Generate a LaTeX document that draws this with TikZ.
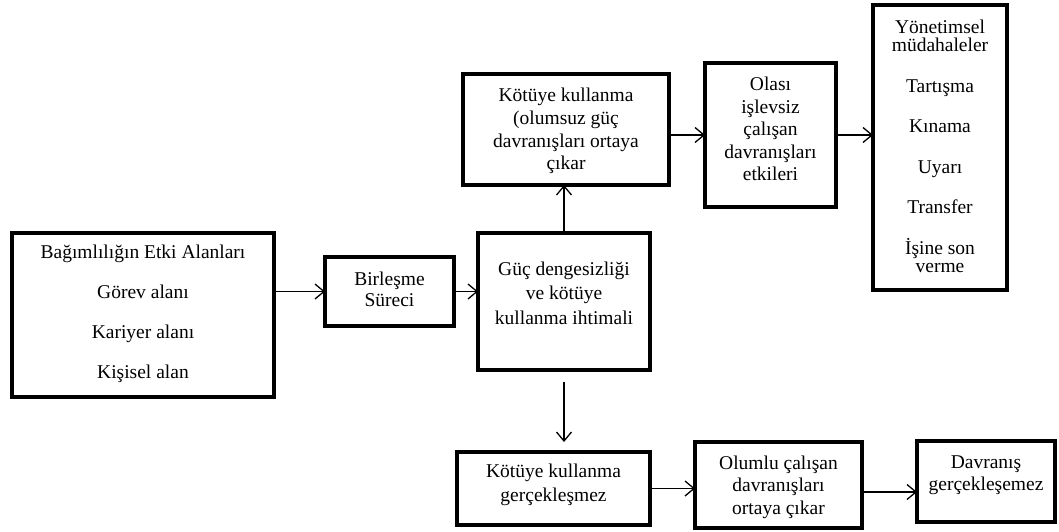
\documentclass[tikz,border=0pt]{standalone}
\usepackage{fontspec}
\setmainfont{Liberation Serif}
\newfontfamily\tnr{Liberation Serif}
\usetikzlibrary{arrows.meta,calc}
\begin{document}
\begin{tikzpicture}[x=1pt,y=-1pt,
 box/.style={draw,line width=3.6pt,rectangle,inner sep=0pt,outer sep=0pt},
 txt/.style={align=center,inner sep=0pt},
 arr/.style={-{Straight Barb[length=9pt,width=15pt,line width=1.3pt]},line width=1.3pt}]
\useasboundingbox (0,0) rectangle (1059,531);
% boxes
\node[box,minimum width=262pt,minimum height=164pt] (dep) at (143,315) {};
\node[box,minimum width=129pt,minimum height=69pt] (bir) at (389.5,291.5) {};
\node[box,minimum width=172pt,minimum height=137pt] (guc) at (564,301.5) {};
\node[box,minimum width=206pt,minimum height=111pt] (kot1) at (566,129.5) {};
\node[box,minimum width=131pt,minimum height=144pt] (ola) at (770.5,135) {};
\node[box,minimum width=134pt,minimum height=285pt] (yon) at (940,147.5) {};
\node[box,minimum width=193pt,minimum height=73pt] (kot2) at (553.5,488.5) {};
\node[box,minimum width=167pt,minimum height=86pt] (olu) at (778.5,485) {};
\node[box,minimum width=138pt,minimum height=81pt] (dav) at (986,481.5) {};
% texts
\node[txt,font=\tnr\fontsize{19.5}{40}\selectfont] (tdep) at (143,314) {Bağımlılığın Etki Alanları\\Görev alanı\\Kariyer alanı\\Kişisel alan};
\node[txt,font=\tnr\fontsize{19.5}{21}\selectfont] (tbir) at (389.5,289) {Birleşme\\Süreci};
\node[txt,font=\tnr\fontsize{19.5}{24.5}\selectfont] (tguc) at (564,293) {Güç dengesizliği\\ve kötüye\\kullanma ihtimali};
\node[txt,font=\tnr\fontsize{19.5}{22.7}\selectfont] (tkot1) at (566,131) {Kötüye kullanma\\(olumsuz güç\\davranışları ortaya\\çıkar};
\node[txt,font=\tnr\fontsize{19.5}{22.5}\selectfont] (tola) at (770.5,129) {Olası\\işlevsiz\\çalışan\\davranışları\\etkileri};
\node[txt,font=\tnr\fontsize{19.5}{18}\selectfont] (tyon) at (940,146.5) {Yönetimsel\\müdahaleler\\[22.5pt]Tartışma\\[22.5pt]Kınama\\[22.5pt]Uyarı\\[22.5pt]Transfer\\[22.5pt]İşine son\\verme};
\node[txt,font=\tnr\fontsize{19.5}{24}\selectfont] (tkot2) at (553.5,485) {Kötüye kullanma\\gerçekleşmez};
\node[txt,font=\tnr\fontsize{19.5}{22.5}\selectfont] (tolu) at (778.5,487) {Olumlu çalışan\\davranışları\\ortaya çıkar};
\node[txt,font=\tnr\fontsize{19.5}{22}\selectfont] (tdav) at (986,475) {Davranış\\gerçekleşemez};
% connectors
\draw[arr] (dep.east |- bir.west) -- (bir.west);
\draw[arr] (bir.east) -- (bir.east -| guc.west);
\draw[arr] (guc.north) -- (guc.north |- kot1.south);
\draw[arr] (kot1.east |- ola.west) -- (ola.west);
\draw[arr] (ola.east) -- (ola.east -| yon.west);
\coordinate (g1) at ($(guc.south)+(0,12)$);
\coordinate (g2) at ($(guc.south |- kot2.north)+(0,-10)$);
\draw[arr] (g1) -- (g2);
\draw[arr] (kot2.east) -- (kot2.east -| olu.west);
\coordinate (o1) at ($(olu.east)+(0,7)$);
\draw[arr] (o1) -- (o1 -| dav.west);
\end{tikzpicture}
\end{document}
